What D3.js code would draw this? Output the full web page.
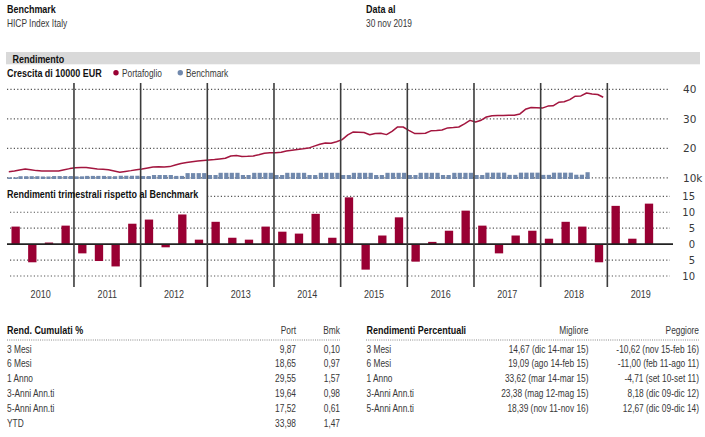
<!DOCTYPE html>
<html><head><meta charset="utf-8">
<script src="https://cdn.jsdelivr.net/npm/d3@7"></script>
<style>
html,body{margin:0;padding:0;background:#fff;}
svg{display:block;}
text{font-family:"Liberation Sans",Arial,sans-serif;}
</style></head><body>
<svg id="c" width="705" height="437"></svg>
<script>
// ---------- DATA ----------
const years = ["2010","2011","2012","2013","2014","2015","2016","2017","2018","2019"];
const quarterNames = ["T1","T2","T3","T4"];
// quarterly returns 2010 T1 ... 2019 T3
const quarterReturns = [
  5.5,-5.7,0.5,5.8,
  -2.9,-5.3,-7.0,6.4,
  7.7,-1.0,9.3,1.4,
  7.0,2.0,1.4,5.5,
  3.9,3.3,9.5,2.0,
  14.67,-8.0,2.7,8.4,
  -5.5,0.7,4.2,10.5,
  5.8,-2.9,2.7,4.2,
  1.7,7.0,5.5,-5.7,
  12.0,1.7,12.7
];
const growthStart = "2010-01";
// growth of 10000 EUR, portfolio, monthly
const portfolioGrowth = [
  12070,12320,12680,12950,12710,12440,12310,12310,12310,12310,12710,13120,
  13420,13490,13490,13250,13020,12880,12710,12310,11900,12170,12440,12750,
  13020,13360,13690,13730,13690,13800,14340,14850,15190,15460,15660,15860,
  16030,16200,16410,16640,17390,17560,17250,17290,17390,17830,18340,18470,
  18510,18680,19080,19360,19630,19830,20070,20750,21390,21830,21690,22240,
  22950,24540,25490,25420,25360,24580,25020,25080,24640,25760,27250,27220,
  26070,25050,24980,25120,25930,26000,26200,26920,27020,27220,28310,29460,
  28920,29530,30610,31050,31120,31150,31190,31190,31660,33220,33860,33730,
  33630,34310,34410,35590,35760,36510,37660,37760,38750,38440,38240,37300
];
// growth of 10000 EUR, benchmark, monthly
const benchmarkGrowth = [
  10150,10150,10550,10550,10550,10550,10450,10450,10600,10600,10600,10600,
  10500,10500,10650,10650,10650,10650,10550,10550,10700,10700,10700,10700,
  10600,10600,10950,10950,10950,10950,10650,10650,11600,11600,11600,11600,
  10950,10950,11700,11700,11700,11700,10950,10950,11700,11700,11700,11700,
  10950,10950,11700,11700,11700,11700,10950,10950,11700,11700,11700,11700,
  10950,10950,11700,11700,11700,11700,10950,10950,11700,11700,11700,11700,
  10950,10950,11700,11700,11700,11700,10950,10950,11700,11700,11700,11700,
  10950,10950,11750,11750,11750,11750,11000,11000,11750,11750,11750,11750,
  11000,11000,11750,11750,11750,11750,11050,11050,11900
];
const growthTicks = [10000,20000,30000,40000];
const growthTickLabels = ["10k","20","30","40"];
const returnTicks = [-10,-5,0,5,10,15];

const cumLabels = ["3 Mesi","6 Mesi","1 Anno","3-Anni Ann.ti","5-Anni Ann.ti","YTD"];
const cumPort = [9.87,18.65,29.55,19.64,17.52,33.98];
const cumBmk = [0.10,0.97,1.57,0.98,0.61,1.47];
const pctLabels = ["3 Mesi","6 Mesi","1 Anno","3-Anni Ann.ti","5-Anni Ann.ti"];
const bestVals = [14.67,19.09,33.62,23.38,18.39];
const bestPeriods = ["dic 14-mar 15","ago 14-feb 15","mar 14-mar 15","mag 12-mag 15","nov 11-nov 16"];
const worstVals = [-10.62,-11.00,-4.71,8.18,12.67];
const worstPeriods = ["nov 15-feb 16","feb 11-ago 11","set 10-set 11","dic 09-dic 12","dic 09-dic 14"];

// ---------- DRAW ----------
const svg = d3.select("#c");
const INK = "#383838", BLACK = "#111";
const RED = "#990033", LINE = "#a3163f", BLUE = "#7189ad";
const DV = "'DejaVu Sans', Verdana, sans-serif";
const NX = 0.82, NXB = 0.88; // condensed look
const loc = d3.formatLocale({decimal:",", thousands:".", grouping:[3], currency:["€",""], minus:"-"});
const f2 = loc.format(".2f");

function txt(x, y, s, o = {}) {
  return svg.append("text").attr("transform", `translate(${x},${y}) scale(${o.bold ? NXB : NX},1)`).text(s)
    .attr("font-size", o.size || 10.2)
    .attr("font-weight", o.bold ? "bold" : null)
    .attr("fill", o.fill || (o.bold ? BLACK : INK))
    .attr("text-anchor", o.anchor || "start");
}

// header
txt(7, 12.5, "Benchmark", {bold:true});
txt(7, 27, "HICP Index Italy");
txt(366, 12.5, "Data al", {bold:true});
txt(366, 27, "30 nov 2019");

// section band
svg.append("rect").attr("x", 6).attr("y", 52).attr("width", 694).attr("height", 12.3).attr("fill", "#d9d9d9");
txt(12.5, 62.5, "Rendimento", {bold:true});

// legend
txt(7, 76.5, "Crescita di 10000 EUR", {bold:true});
svg.append("circle").attr("cx", 116).attr("cy", 72.8).attr("r", 2.7).attr("fill", RED);
txt(122, 76.5, "Portafoglio");
svg.append("circle").attr("cx", 180.3).attr("cy", 72.8).attr("r", 2.7).attr("fill", BLUE);
txt(186, 76.5, "Benchmark");

// scales
const x0 = 7.3, x1 = 674;
const xYear = d3.scaleBand().domain(years).range([x0, x1]);
const xTime = d3.scaleTime().domain([new Date(2010,0,1), new Date(2020,0,1)]).range([x0, x1]);
const yG = d3.scaleLinear().domain([9600, 42000]).range([179, 83.4]);
const monthDate = i => { const [yy, mm] = growthStart.split("-").map(Number); return new Date(yy, mm - 1 + i, 1); };

// growth gridlines
const dots = "1.2,2.2";
svg.append("g").selectAll("line").data(growthTicks).join("line")
  .attr("x1", 7).attr("x2", 670).attr("y1", d => yG(d)).attr("y2", d => yG(d))
  .attr("stroke", "#555").attr("stroke-width", 1.2).attr("stroke-dasharray", dots);

// benchmark bars
svg.append("g").selectAll("rect").data(benchmarkGrowth).join("rect")
  .attr("x", (d, i) => xTime(monthDate(i)) + 0.4)
  .attr("width", 4.2)
  .attr("y", d => yG(d))
  .attr("height", d => yG.range()[0] - yG(d))
  .attr("fill", BLUE);

// portfolio line
svg.append("path").datum(portfolioGrowth)
  .attr("fill", "none").attr("stroke", LINE).attr("stroke-width", 1.5)
  .attr("stroke-linejoin", "round")
  .attr("d", d3.line().x((d, i) => xTime(monthDate(i)) + 1.5).y(d => yG(d)));

// growth axis labels
svg.append("g").selectAll("text").data(growthTicks).join("text")
  .attr("x", 683).attr("y", d => yG(d) + 4)
  .attr("font-size", 10.5).attr("fill", INK).style("font-family", DV)
  .text((d, i) => growthTickLabels[i]);

// quarterly chart
const quarters = years.flatMap(y => quarterNames.map(q => y + q));
const xQ = d3.scaleBand().domain(quarters).range([x0, x1]).paddingInner(0.5).paddingOuter(0.25);
const yR = d3.scaleLinear().domain([-10, 15]).range([276, 196.3]);

svg.append("g").selectAll("line").data(returnTicks.filter(t => t !== 0)).join("line")
  .attr("x1", 10).attr("x2", 670).attr("y1", d => yR(d)).attr("y2", d => yR(d))
  .attr("stroke", "#555").attr("stroke-width", 1.2).attr("stroke-dasharray", dots);

// white backing behind the sub-chart title
svg.append("rect").attr("x", 6).attr("y", 188).attr("width", 202).attr("height", 12).attr("fill", "#fff");

svg.append("g").selectAll("rect").data(quarterReturns).join("rect")
  .attr("x", (d, i) => xQ(quarters[i]))
  .attr("width", xQ.bandwidth())
  .attr("y", d => yR(Math.max(0, d)))
  .attr("height", d => Math.abs(yR(d) - yR(0)))
  .attr("fill", RED);

svg.append("line").attr("x1", 7).attr("x2", 673).attr("y1", yR(0)).attr("y2", yR(0))
  .attr("stroke", "#222").attr("stroke-width", 1.6);

// year separators
svg.append("g").selectAll("line").data(years.slice(1)).join("line")
  .attr("x1", d => xYear(d)).attr("x2", d => xYear(d))
  .attr("y1", 83).attr("y2", 287)
  .attr("stroke", "#3c3c3c").attr("stroke-width", 1.6);

txt(7, 198.3, "Rendimenti trimestrali rispetto al Benchmark", {bold:true});

svg.append("g").selectAll("text").data(returnTicks).join("text")
  .attr("x", 695).attr("y", d => yR(d) + 3.8).attr("text-anchor", "end")
  .attr("font-size", 10).attr("fill", INK).style("font-family", DV)
  .text(d => Math.abs(d));

years.forEach(y => txt(xYear(y) + xYear.bandwidth() / 2, 297.5, y, {anchor:"middle", size:11}));

// tables
const rowY = i => 352.5 + i * 14.8;
txt(7, 333.5, "Rend. Cumulati %", {bold:true});
txt(296, 333.5, "Port", {anchor:"end"});
txt(340, 333.5, "Bmk", {anchor:"end"});
svg.append("line").attr("x1", 7).attr("x2", 340).attr("y1", 340).attr("y2", 340)
  .attr("stroke", "#888").attr("stroke-width", 1).attr("stroke-dasharray", "1,1.2");
cumLabels.forEach((l, i) => {
  txt(7, rowY(i), l);
  txt(296, rowY(i), f2(cumPort[i]), {anchor:"end"});
  txt(340, rowY(i), f2(cumBmk[i]), {anchor:"end"});
});

txt(366.5, 333.5, "Rendimenti Percentuali", {bold:true});
txt(588.5, 333.5, "Migliore", {anchor:"end"});
txt(699, 333.5, "Peggiore", {anchor:"end"});
svg.append("line").attr("x1", 366).attr("x2", 699).attr("y1", 340).attr("y2", 340)
  .attr("stroke", "#888").attr("stroke-width", 1).attr("stroke-dasharray", "1,1.2");
pctLabels.forEach((l, i) => {
  txt(366.5, rowY(i), l);
  txt(588.5, rowY(i), f2(bestVals[i]) + " (" + bestPeriods[i] + ")", {anchor:"end"});
  txt(699, rowY(i), f2(worstVals[i]) + " (" + worstPeriods[i] + ")", {anchor:"end"});
});
</script></body></html>
